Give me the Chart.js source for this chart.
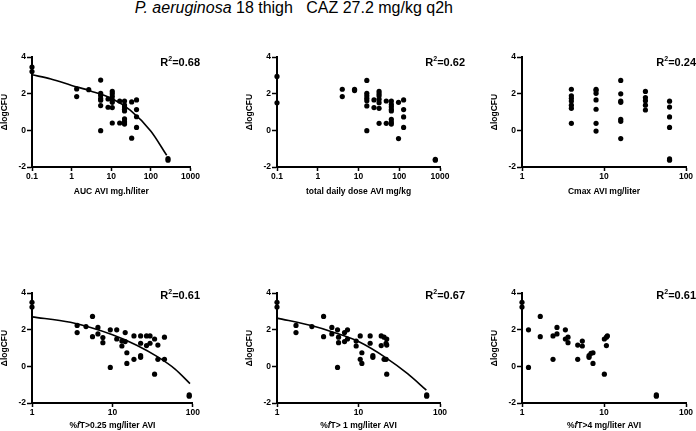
<!DOCTYPE html>
<html>
<head>
<meta charset="utf-8">
<script src="https://cdn.jsdelivr.net/npm/chart.js@4.4.1/dist/chart.umd.min.js"></script>
<style>
body { margin:0; background:#fff; width:696px; height:431px; position:relative; overflow:hidden; font-family:"Liberation Sans", Arial, sans-serif; }
#title { position:absolute; top:0; right:243px; font-size:16px; line-height:15px; white-space:pre; color:#000; }
canvas { position:absolute; }
</style>
</head>
<body>
<div id="title"><i>P. aeruginosa</i> 18 thigh   CAZ 27.2 mg/kg q2h</div>
<script>
// tick values
var ticksWide = [0.1, 1, 10, 100, 1000];
var ticksNarrow = [1, 10, 100];
var yTicks = [-2, 0, 2, 4];

// AUC AVI
var aucX = [0.1,0.1, 1.34,1.34, 2.7, 5.4,5.4,5.4,5.4,5.4,5.4,5.4, 8.3,8.3, 10.6,10.6,10.6,10.6,10.6,10.6,10.6, 16.3,16.3,
  21.6,21.6,21.6,21.6,21.6,21.6,21.6,21.6, 32.7,32.7, 43.4,43.4,43.4,43.4, 270,270];
var aucY = [3.45,3.21, 2.26,1.84, 2.22, 2.74,2.02,1.9,1.73,1.64,1.35,-0.02, 1.71,1.26, 2.12,1.99,1.84,1.66,1.53,1.24,0.4, 1.6,0.4,
  1.6,1.38,1.27,1.15,1.06,0.62,0.47,0.34, 1.55,-0.43, 1.66,1.13,0.74,0.16, -1.54,-1.63];
var aucFitX = [0.1, 0.3, 1, 3, 10, 30, 100, 250];
var aucFitY = [3.03, 2.8, 2.45, 2.15, 1.75, 1.1, -0.05, -1.36];

// total daily dose
var doseX = [0.1,0.1, 4,4, 8,8, 16,16,16,16,16,16,16, 24,24, 32,32,32,32,32,32,32, 48,48,
  64,64,64,64,64,64,64,64, 96,96, 128,128,128,128, 768,768];
var doseY = [2.94,1.5, 2.24,1.84, 2.24,2.17, 2.72,2.02,1.88,1.75,1.62,1.33,-0.02, 1.66,1.24, 2.12,1.99,1.88,1.7,1.51,1.2,0.38, 1.6,0.38,
  1.6,1.42,1.29,1.15,1.06,0.6,0.45,0.34, 1.53,-0.45, 1.66,1.13,0.73,0.16, -1.58,-1.63];

// Cmax
var cmaxX = [4,4,4,4,4,4,4, 8,8,8,8,8,8,8, 16,16,16,16,16,16,16, 32,32,32,32,32, 63,63,63,63,63,63];
var cmaxY = [2.24,1.88,1.75,1.6,1.37,1.2,0.38, 2.24,2.17,2.02,1.66,1.15,0.38,-0.04, 2.72,1.99,1.6,1.53,0.6,0.49,-0.45,
  2.12,1.79,1.62,1.37,1.11, 1.59,1.27,0.73,0.16,-1.56,-1.63];

// %fT>0.25
var t025X = [1,1, 3.64,3.64, 4.69, 5.65,5.65, 6.6,6.6, 7.6,7.6, 9.4,9.4, 11.3,11.3, 13.1,13.1, 14.4,14.4, 15.1,15.1, 18.5,18.5,
  22.4,22.4,22.4,22.4, 26.5,26.5, 29.3,29.3, 33.4,33.4, 36.7,36.7, 44.3,44.3, 90,90];
var t025Y = [3.49,3.23, 2.23,1.84, 2.17, 2.72,1.62, 2.12,1.77, 1.57,1.29, 1.99,-0.06, 1.99,1.49, 1.38,1.11, 1.84,1.35, 0.74,0.16, 1.66,0.38,
  1.66,1.26,0.58,0.49, 1.66,1.13, 1.66,1.26, 1.49,-0.43, 1.16,0.38, 1.59,0.38, -1.56,-1.63];
var t025FitX = [1, 3, 10, 20, 37, 60, 92];
var t025FitY = [2.7, 2.4, 1.72, 1.15, 0.5, -0.15, -0.94];

// %fT>1
var t1X = [1,1, 1.71,1.71, 2.68, 3.73,3.73, 4.71,4.71, 5.53,5.53, 5.69,5.69, 6.74,6.74, 7.33,7.33, 9.36,9.36, 10.5,10.5, 11,11,
  13.9,13.9, 15,15, 19,19, 20.6,20.6, 21.8,21.8, 22.2,22.2,22.2, 68.7,68.7];
var t1Y = [3.49,3.23, 2.23,1.84, 2.17, 2.72,1.62, 2.12,1.77, 1.99,-0.06, 1.59,1.29, 1.84,1.35, 1.99,1.49, 1.38,1.11, 1.66,0.38, 0.74,0.16,
  1.66,1.26, 0.58,0.49, 1.66,1.13, 1.59,0.38, 1.26,0.38, 1.49,-0.43,1.16, -1.56,-1.63];
var t1FitX = [1, 2.7, 5, 10, 22, 40, 68];
var t1FitY = [2.63, 2.21, 1.85, 1.35, 0.45, -0.4, -1.3];

// %fT>4
var t4X = [1,1, 1.2,1.2, 1.67,1.67, 2.39,2.39, 2.67,2.67, 3.38,3.38, 3.64,3.64, 4.78,4.78, 5.44,5.44, 6.57,6.57, 6.94,
  7.34,7.34, 10.1,10.1, 10.7,10.7, 11, 43.5,43.5];
var t4Y = [3.49,3.23, 1.99,-0.06, 2.72,1.62, 1.66,0.38, 2.12,1.77, 1.99,1.49, 1.59,1.29, 1.16,0.38, 1.38,1.11, 0.58,0.49, 0.71,
  0.74,0.16, 1.49,-0.43, 1.59,1.13, 1.66, -1.56,-1.63];

var xTitles = ['AUC AVI mg.h/liter', 'total daily dose AVI mg/kg', 'Cmax AVI mg/liter',
  '%*f*T>0.25 mg/liter AVI', '%*f*T> 1 mg/liter AVI', '%*f*T>4 mg/liter AVI'];
var r2Labels = ['0.68', '0.62', '0.24', '0.61', '0.67', '0.61'];

Chart.defaults.font.family = '"Liberation Sans", Arial, sans-serif';
Chart.defaults.color = '#000';

function pts(xs, ys) {
  return xs.map(function (x, i) { return { x: x, y: ys[i] }; });
}

var FONT = '"Liberation Sans", Arial, sans-serif';

// R² label and x title (the f in %fT is italic)
var panelText = {
  id: 'panelText',
  afterDraw: function (chart, args, o) {
    var ctx = chart.ctx, a = chart.chartArea;
    ctx.save();
    ctx.fillStyle = '#000';
    ctx.textBaseline = 'middle';
    ctx.textAlign = 'left';
    var big = 'bold 11px ' + FONT, small = 'bold 7px ' + FONT;
    ctx.font = big;
    var wR = ctx.measureText('R').width, wRest = ctx.measureText('=' + o.r2).width;
    ctx.font = small;
    var w2 = ctx.measureText('2').width;
    var x = o.r2x - (wR + w2 + wRest);
    ctx.font = big; ctx.fillText('R', x, o.r2y); x += wR;
    ctx.font = small; ctx.fillText('2', x, o.r2y - 4); x += w2;
    ctx.font = big; ctx.fillText('=' + o.r2, x, o.r2y);

    var parts = o.xTitle.split('*');
    var total = 0, fonts = [];
    parts.forEach(function (p, i) {
      fonts[i] = (i % 2 ? 'italic ' : '') + 'bold 8.5px ' + FONT;
      ctx.font = fonts[i];
      total += ctx.measureText(p).width;
    });
    x = (a.left + a.right) / 2 - total / 2;
    parts.forEach(function (p, i) {
      ctx.font = fonts[i];
      ctx.fillText(p, x, o.xTitleY);
      x += ctx.measureText(p).width;
    });
    ctx.restore();
  }
};

// chart area of each panel, page pixels
var areas = [
  { l: 32, r: 195, t: 57, b: 167, r2x: 200 },
  { l: 277, r: 440, t: 57, b: 167, r2x: 465 },
  { l: 522, r: 686, t: 57, b: 167, r2x: 696 },
  { l: 32, r: 196, t: 293, b: 403, r2x: 200 },
  { l: 277, r: 440, t: 293, b: 403, r2x: 465 },
  { l: 522, r: 686, t: 293, b: 403, r2x: 696 }
];

function makePanel(i, xs, ys, fitX, fitY, xTicks) {
  var A = areas[i], top = i < 3;
  var cl = A.l - 32, ct = A.t - 12, cr = A.r2x + 1, cb = Math.min(A.b + 31, 431);
  var cv = document.createElement('canvas');
  cv.width = cr - cl; cv.height = cb - ct;
  cv.style.left = cl + 'px'; cv.style.top = ct + 'px';
  document.body.appendChild(cv);

  var datasets = [{
    data: pts(xs, ys), pointRadius: 2.6, pointBackgroundColor: '#000', pointBorderWidth: 0,
    showLine: false, clip: false
  }];
  if (fitX) {
    datasets.push({
      data: pts(fitX, fitY), showLine: true, pointRadius: 0, borderColor: '#000', borderWidth: 1.6,
      cubicInterpolationMode: 'monotone', fill: false, clip: false
    });
  }

  new Chart(cv.getContext('2d'), {
    type: 'scatter',
    data: { datasets: datasets },
    plugins: [panelText],
    options: {
      responsive: false,
      animation: false,
      events: [],
      layout: { padding: { left: 0, top: A.t - ct, right: cr - A.r, bottom: 0 } },
      plugins: {
        legend: { display: false },
        tooltip: { enabled: false },
        panelText: {
          r2: r2Labels[i], r2x: A.r2x - cl, r2y: A.t - ct + (top ? 6 : 3),
          xTitle: xTitles[i], xTitleY: A.b - ct + (top ? 25 : 23)
        }
      },
      scales: {
        x: {
          type: 'logarithmic', position: 'bottom',
          min: xTicks[0], max: xTicks[xTicks.length - 1],
          afterBuildTicks: function (s) { s.ticks = xTicks.map(function (v) { return { value: v }; }); },
          afterFit: function (s) { s.height = cb - A.b; },
          ticks: {
            callback: function (v) { return String(v); },
            autoSkip: false, maxRotation: 0, padding: 1,
            font: { size: 8.5, weight: 'bold' }
          },
          grid: { drawOnChartArea: false, tickLength: 4, tickColor: '#000', tickWidth: 1.5 },
          border: { color: '#000', width: 2 }
        },
        y: {
          min: -2, max: 4,
          afterBuildTicks: function (s) { s.ticks = yTicks.map(function (v) { return { value: v }; }); },
          afterFit: function (s) { s.width = 32; },
          ticks: { padding: 1, font: { size: 8.5, weight: 'bold' } },
          grid: { drawOnChartArea: false, tickLength: 5, tickColor: '#000', tickWidth: 1.5 },
          border: { color: '#000', width: 2 },
          title: { display: true, text: '\u0394logCFU', padding: 0, font: { size: 8.5, weight: 'bold' } }
        }
      }
    }
  });
}

makePanel(0, aucX, aucY, aucFitX, aucFitY, ticksWide);
makePanel(1, doseX, doseY, null, null, ticksWide);
makePanel(2, cmaxX, cmaxY, null, null, ticksNarrow);
makePanel(3, t025X, t025Y, t025FitX, t025FitY, ticksNarrow);
makePanel(4, t1X, t1Y, t1FitX, t1FitY, ticksNarrow);
makePanel(5, t4X, t4Y, null, null, ticksNarrow);
</script>
</body>
</html>
